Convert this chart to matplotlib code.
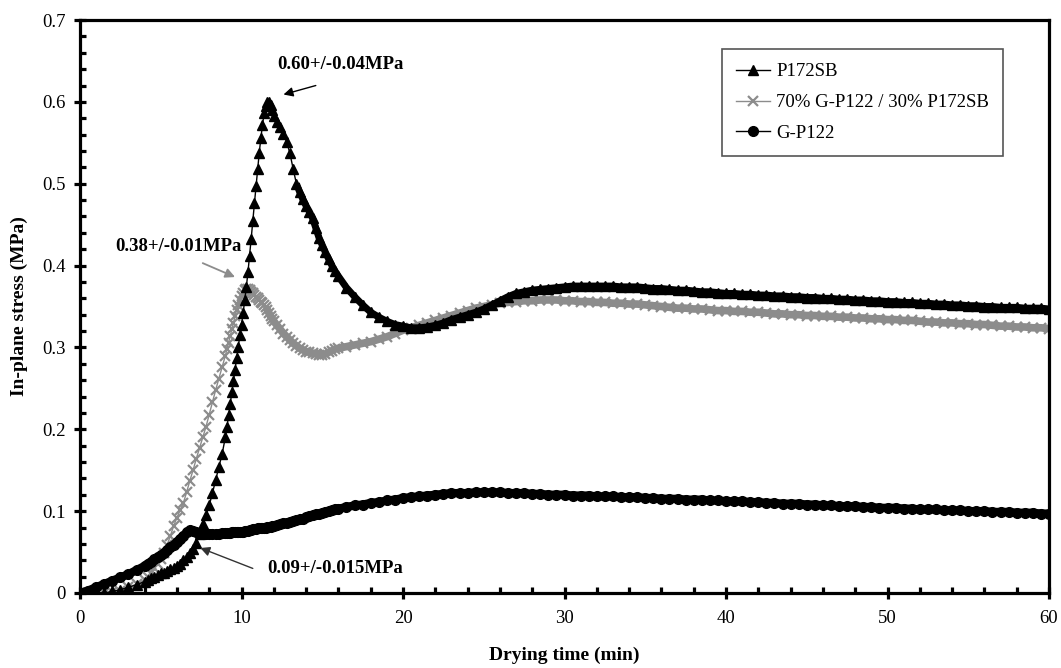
import numpy as np
import matplotlib
matplotlib.use("Agg")
import matplotlib.pyplot as plt
from matplotlib.ticker import MultipleLocator

plt.rcParams['font.family'] = ['Liberation Serif', 'DejaVu Serif']

# sampling times (min): coarse at start, fine around the stress peaks
time_min = np.round(np.concatenate([
    np.arange(0, 4, 0.5),
    np.arange(4, 9, 0.2),
    np.arange(9, 12, 0.1),
    np.arange(12, 16, 0.2),
    np.arange(16, 60.01, 0.5),
]), 2)

# in-plane stress (MPa)
p172sb = [
    0, 0, 0, 0, 0.002, 0.004, 0.007, 0.010,
    0.014, 0.016, 0.018, 0.020, 0.022, 0.024, 0.025, 0.027, 0.029, 0.031,
    0.033, 0.036, 0.040, 0.044, 0.049, 0.054, 0.061, 0.072, 0.084, 0.095,
    0.107, 0.122, 0.138, 0.154, 0.170,
    0.190, 0.203, 0.217, 0.231, 0.245, 0.259, 0.273, 0.287, 0.301, 0.315,
    0.328, 0.342, 0.358, 0.374, 0.392, 0.412, 0.433, 0.455, 0.476, 0.497,
    0.518, 0.538, 0.556, 0.572, 0.586, 0.595, 0.600, 0.600, 0.596, 0.590,
    0.583, 0.576, 0.569, 0.561, 0.551, 0.537, 0.518, 0.500, 0.490, 0.481,
    0.473, 0.466, 0.458, 0.446, 0.434, 0.425, 0.416, 0.408, 0.400, 0.393,
    0.387, 0.373, 0.362, 0.352, 0.343, 0.337, 0.332, 0.328, 0.326, 0.324,
    0.324, 0.325, 0.327, 0.330, 0.334, 0.337, 0.340, 0.343, 0.347, 0.352,
    0.357, 0.362, 0.366, 0.368, 0.370, 0.371, 0.372, 0.373, 0.374, 0.375,
    0.375, 0.375, 0.375, 0.375, 0.375, 0.374, 0.374, 0.374, 0.373, 0.372,
    0.372, 0.371, 0.370, 0.370, 0.369, 0.368, 0.368, 0.367, 0.366, 0.366,
    0.365, 0.365, 0.364, 0.364, 0.363, 0.363, 0.362, 0.362, 0.361, 0.361,
    0.360, 0.360, 0.359, 0.359, 0.358, 0.358, 0.357, 0.357, 0.356, 0.356,
    0.355, 0.355, 0.354, 0.354, 0.353, 0.353, 0.352, 0.352, 0.351, 0.351,
    0.350, 0.350, 0.349, 0.349, 0.349, 0.348, 0.348, 0.348, 0.347,
]

blend_70_30 = [
    0, 0, 0, 0, 0.001, 0.003, 0.007, 0.011,
    0.016, 0.020, 0.025, 0.030, 0.035, 0.041, 0.049, 0.059, 0.070, 0.082,
    0.092, 0.101, 0.110, 0.123, 0.137, 0.150, 0.164, 0.177, 0.190, 0.203,
    0.218, 0.233, 0.248, 0.262, 0.276,
    0.290, 0.298, 0.306, 0.314, 0.322, 0.330, 0.338, 0.346, 0.352, 0.358,
    0.363, 0.367, 0.370, 0.372, 0.372, 0.370, 0.368, 0.366, 0.364, 0.362,
    0.360, 0.358, 0.356, 0.354, 0.352, 0.349, 0.346, 0.342, 0.338, 0.335,
    0.332, 0.327, 0.322, 0.317, 0.313, 0.309, 0.305, 0.302, 0.299, 0.297,
    0.295, 0.294, 0.293, 0.292, 0.291, 0.291, 0.292, 0.294, 0.296, 0.298,
    0.299, 0.301, 0.303, 0.305, 0.307, 0.310, 0.313, 0.317, 0.321, 0.324,
    0.327, 0.330, 0.333, 0.336, 0.339, 0.342, 0.345, 0.348, 0.350, 0.352,
    0.354, 0.355, 0.356, 0.357, 0.357, 0.358, 0.358, 0.358, 0.357, 0.357,
    0.356, 0.356, 0.355, 0.355, 0.354, 0.354, 0.353, 0.353, 0.352, 0.351,
    0.350, 0.349, 0.348, 0.348, 0.347, 0.347, 0.346, 0.345, 0.345, 0.344,
    0.344, 0.343, 0.343, 0.342, 0.341, 0.341, 0.340, 0.340, 0.339, 0.339,
    0.338, 0.338, 0.337, 0.337, 0.336, 0.336, 0.335, 0.335, 0.334, 0.334,
    0.333, 0.333, 0.332, 0.331, 0.331, 0.330, 0.330, 0.329, 0.329, 0.328,
    0.328, 0.327, 0.326, 0.326, 0.325, 0.325, 0.324, 0.324, 0.323,
]

gp122 = [
    0.000, 0.003, 0.007, 0.011, 0.015, 0.019, 0.023, 0.028,
    0.033, 0.036, 0.038, 0.041, 0.044, 0.046, 0.049, 0.052, 0.056, 0.059,
    0.062, 0.066, 0.070, 0.074, 0.077, 0.076, 0.074, 0.073, 0.072, 0.072,
    0.072, 0.072, 0.072, 0.072, 0.073,
    0.073, 0.073, 0.073, 0.073, 0.074, 0.074, 0.074, 0.074, 0.075, 0.075,
    0.075, 0.075, 0.076, 0.076, 0.076, 0.077, 0.077, 0.078, 0.078, 0.078,
    0.079, 0.079, 0.079, 0.080, 0.080, 0.080, 0.081, 0.081, 0.081, 0.082,
    0.082, 0.083, 0.084, 0.085, 0.086, 0.087, 0.088, 0.089, 0.090, 0.091,
    0.093, 0.094, 0.095, 0.096, 0.097, 0.098, 0.099, 0.100, 0.101, 0.102,
    0.103, 0.105, 0.107, 0.108, 0.110, 0.111, 0.113, 0.114, 0.116, 0.117,
    0.118, 0.119, 0.120, 0.121, 0.122, 0.122, 0.122, 0.123, 0.123, 0.123,
    0.123, 0.122, 0.122, 0.122, 0.121, 0.121, 0.120, 0.120, 0.120, 0.119,
    0.119, 0.119, 0.118, 0.118, 0.118, 0.117, 0.117, 0.117, 0.116, 0.116,
    0.115, 0.115, 0.115, 0.114, 0.114, 0.114, 0.113, 0.113, 0.112, 0.112,
    0.112, 0.111, 0.111, 0.110, 0.110, 0.109, 0.109, 0.109, 0.108, 0.108,
    0.107, 0.107, 0.106, 0.106, 0.106, 0.105, 0.105, 0.104, 0.104, 0.104,
    0.103, 0.103, 0.102, 0.102, 0.102, 0.101, 0.101, 0.101, 0.100, 0.100,
    0.100, 0.099, 0.099, 0.099, 0.098, 0.098, 0.098, 0.097, 0.097,
]

series_labels = ["P172SB", "70% G-P122 / 30% P172SB", "G-P122"]
gray = "#8c8c8c"

p172sb = np.array(p172sb)
blend_70_30 = np.array(blend_70_30)
gp122 = np.array(gp122)

fig = plt.figure(figsize=(10.61, 6.68), dpi=100)
ax = fig.add_axes([0.0754, 0.1123, 0.9133, 0.8577])

# where the samples crowd together the markers merge into a solid band
late_black = time_min >= 13.4
late_gray = time_min >= 11.5
ax.plot(time_min[late_gray], blend_70_30[late_gray], color=gray, lw=5.5,
        solid_capstyle="butt", zorder=2)
ax.plot(time_min, blend_70_30, color=gray, lw=1.0, marker="x", ms=7.5,
        mew=1.6, label=series_labels[1], zorder=2)

ax.plot(time_min[late_black], p172sb[late_black], color="black", lw=5,
        solid_capstyle="butt", zorder=3)
ax.plot(time_min, p172sb, color="black", lw=1.0, marker="^", ms=7,
        label=series_labels[0], zorder=3)

ax.plot(time_min, gp122, color="black", lw=6, solid_capstyle="butt", zorder=4)
ax.plot(time_min, gp122, color="black", lw=1.0, marker="o", ms=7,
        label=series_labels[2], zorder=4)

# peak stress callouts
arrow_black = dict(arrowstyle="-|>", color="black", lw=1.0,
                   mutation_scale=14, shrinkA=0, shrinkB=0)
arrow_gray = dict(arrowstyle="-|>", color=gray, lw=1.3,
                  mutation_scale=14, shrinkA=0, shrinkB=0)
note_font = dict(fontsize=13.5, fontweight="bold", va="center", ha="left")

ax.annotate("", xy=(12.6, 0.609), xytext=(14.6, 0.620), arrowprops=arrow_black)
ax.text(12.2, 0.646, "0.60+/-0.04MPa", **note_font)

ax.annotate("", xy=(9.6, 0.386), xytext=(7.6, 0.403), arrowprops=arrow_gray)
ax.text(2.2, 0.423, "0.38+/-0.01MPa", **note_font)

ax.annotate("", xy=(7.45, 0.055), xytext=(10.7, 0.030),
            arrowprops=dict(arrow_black, color="#333333"))
ax.text(11.6, 0.0305, "0.09+/-0.015MPa", **note_font)

ax.set_xlim(0, 60)
ax.set_ylim(0, 0.7)
ax.xaxis.set_major_locator(MultipleLocator(10))
ax.xaxis.set_minor_locator(MultipleLocator(2))
ax.yaxis.set_minor_locator(MultipleLocator(0.02))
ax.set_yticks(np.arange(0, 0.71, 0.1))
ax.set_yticklabels(["0", "0.1", "0.2", "0.3", "0.4", "0.5", "0.6", "0.7"])

for spine in ax.spines.values():
    spine.set_linewidth(2.3)
ax.tick_params(which="major", direction="inout", length=9, width=2.3,
               labelsize=13.5, pad=6)
ax.tick_params(which="minor", direction="in", length=4.5, width=2.3)
ax.tick_params(axis="x", which="major", pad=8)

ax.set_xlabel("Drying time (min)", fontsize=14, fontweight="bold", labelpad=14)
ax.set_ylabel("In-plane stress (MPa)", fontsize=14, fontweight="bold",
              labelpad=10)

handles, labels = ax.get_legend_handles_labels()
order = [labels.index(s) for s in series_labels]
leg = ax.legend([handles[i] for i in order], [labels[i] for i in order],
                loc="upper right", bbox_to_anchor=(0.9525, 0.949),
                fontsize=13.5, fancybox=False, framealpha=1,
                edgecolor="#555555", handlelength=1.85, labelspacing=0.72,
                borderpad=0.75, handletextpad=0.3, borderaxespad=0)
leg.get_frame().set_linewidth(1.2)
leg.set_zorder(10)

plt.savefig("out.png", dpi=100)
